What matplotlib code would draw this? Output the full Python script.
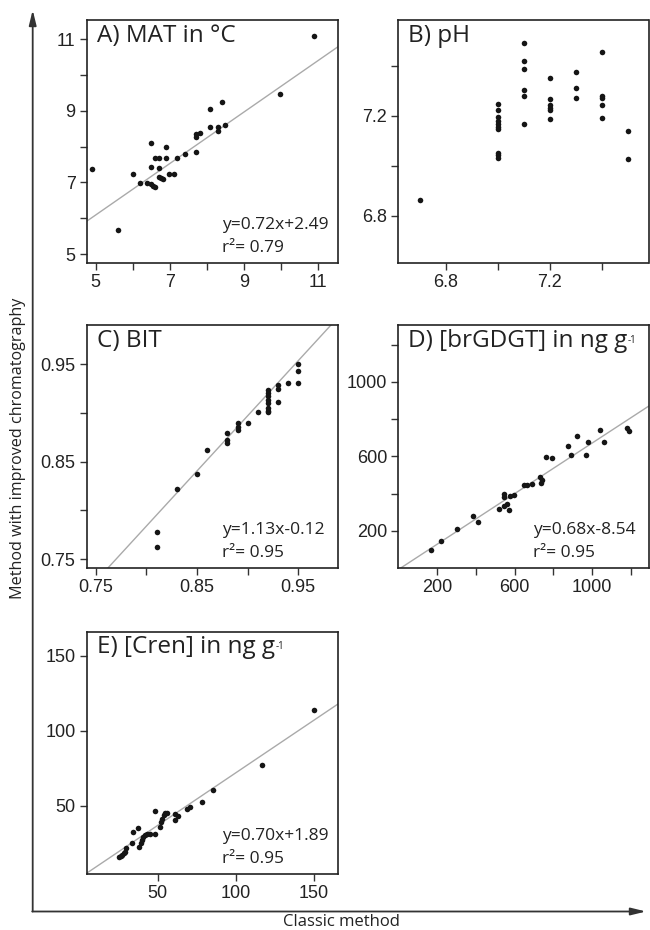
import matplotlib
matplotlib.use("Agg")
import matplotlib.pyplot as plt
import numpy as np

plt.rcParams['font.family'] = ['Open Sans', 'DejaVu Sans']
plt.rcParams['mathtext.default'] = 'regular'

# ---------------- data ----------------
mat_x = [4.91, 5.61, 6.0, 6.19, 6.39, 6.48, 6.55, 6.61, 6.5, 6.5, 6.6, 6.7, 6.71, 6.7,
         6.76, 6.81, 6.9, 6.9, 6.99, 7.1, 7.2, 7.4, 7.7, 7.7, 7.7, 7.8, 8.09, 8.09,
         8.3, 8.3, 8.4, 8.5, 9.98, 10.88]
mat_y = [7.37, 5.66, 7.25, 6.98, 6.99, 6.95, 6.91, 6.88, 7.44, 8.11, 7.67, 7.67, 7.41, 7.16,
         7.12, 7.09, 7.99, 7.67, 7.25, 7.23, 7.69, 7.80, 7.86, 8.28, 8.35, 8.39, 9.06, 8.56,
         8.56, 8.43, 9.25, 8.60, 9.48, 11.09]

ph_x = [6.7,
        7.0, 7.0, 7.0, 7.0, 7.0, 7.0, 7.0, 7.0, 7.0, 7.0,
        7.1, 7.1, 7.1, 7.1, 7.1, 7.1,
        7.2, 7.2, 7.2, 7.2, 7.2, 7.2,
        7.3, 7.3, 7.3,
        7.4, 7.4, 7.4, 7.4, 7.4,
        7.5, 7.5]
ph_y = [6.861,
        7.248, 7.224, 7.195, 7.181, 7.168, 7.157, 7.148, 7.051, 7.041, 7.032,
        7.492, 7.420, 7.387, 7.304, 7.279, 7.167,
        7.351, 7.268, 7.244, 7.233, 7.224, 7.187,
        7.375, 7.312, 7.273,
        7.457, 7.280, 7.272, 7.243, 7.193,
        7.139, 7.028]

bit_x = [0.81, 0.81, 0.83, 0.85, 0.86, 0.88, 0.88, 0.88, 0.89, 0.89, 0.89, 0.90, 0.91,
         0.92, 0.92, 0.92, 0.92, 0.92, 0.92, 0.92, 0.92, 0.93, 0.93, 0.93, 0.94,
         0.95, 0.95, 0.95]
bit_y = [0.778, 0.763, 0.822, 0.837, 0.862, 0.879, 0.872, 0.869, 0.890, 0.885, 0.882, 0.890,
         0.9005, 0.923, 0.920, 0.917, 0.913, 0.910, 0.905, 0.902, 0.901, 0.9285, 0.924,
         0.911, 0.931, 0.950, 0.9425, 0.931]

br_x = [171, 221, 305, 384, 412, 518, 544, 544, 544, 563, 570, 578, 596, 649, 661, 690,
        730, 735, 743, 762, 792, 876, 888, 921, 970, 976, 1038, 1062, 1177, 1187]
br_y = [95, 143, 207, 280, 246, 316, 398, 379, 334, 343, 311, 388, 391, 445, 448, 450,
        491, 454, 470, 596, 593, 655, 607, 709, 605, 679, 739, 679, 754, 736]

cren_x = [150.2, 116.8, 85.5, 78.6, 70.8, 68.9, 63.0, 61.3, 61.1, 56.3, 54.4, 53.8, 52.5,
          51.9, 51.3, 48.3, 48.3, 45.2, 43.1, 42.0, 40.5, 39.9, 39.1, 37.8, 37.4, 34.5,
          33.6, 29.8, 29.0, 28.4, 27.3, 26.3, 25.2]
cren_y = [113.6, 76.9, 60.4, 52.4, 48.9, 47.8, 42.9, 40.4, 44.2, 45.3, 45.3, 43.6, 41.3,
          38.9, 35.8, 46.7, 30.9, 30.9, 30.9, 30.4, 29.1, 26.9, 25.3, 22.7, 35.1, 32.4,
          24.9, 21.6, 19.3, 18.2, 17.1, 16.4, 15.8]

titles = ["A) MAT in °C", "B) pH", "C) BIT", "D) [brGDGT] in ng g", "E) [Cren] in ng g"]
title_sup = [None, None, None, "-1", "-1"]
fit_slope = [0.72, None, 1.13, 0.68, 0.70]
fit_icpt = [2.49, None, -0.12, -8.54, 1.89]
fit_text = ["y=0.72x+2.49", None, "y=1.13x-0.12", "y=0.68x-8.54", "y=0.70x+1.89"]
r2_text = ["r²= 0.79", None, "r²= 0.95", "r²= 0.95", "r²= 0.95"]

# ticks: positions and labels
a_ticks = [5, 6, 7, 8, 9, 10, 11]
a_labels = ["5", "", "7", "", "9", "", "11"]
b_ticks = [6.8, 7.0, 7.2, 7.4]
b_labels = ["6.8", "", "7.2", ""]
c_ticks = [0.75, 0.80, 0.85, 0.90, 0.95]
c_labels = ["0.75", "", "0.85", "", "0.95"]
d_ticks = [200, 400, 600, 800, 1000, 1200]
d_labels = ["200", "", "600", "", "1000", ""]
e_ticks = [50, 100, 150]
e_labels = ["50", "100", "150"]

# ---------------- figure ----------------
W, H = 650, 930
fig = plt.figure(figsize=(W / 100, H / 100), dpi=100)

def add_ax(l, r, t, b):
    return fig.add_axes([l / W, 1 - b / H, (r - l) / W, (b - t) / H])

boxes = [(86.7, 338.3, 20, 263), (398.3, 648.5, 20, 263),
         (86.7, 338.3, 325, 568), (398.3, 648.5, 325, 568),
         (86.7, 338.3, 631.7, 874.3)]
xs = [mat_x, ph_x, bit_x, br_x, cren_x]
ys = [mat_y, ph_y, bit_y, br_y, cren_y]
xlims = [(4.76, 11.54), (6.617, 7.58), (0.741, 0.9895), (0, 1290), (4.5, 165.8)]
ylims = [(4.75, 11.54), (6.61, 7.584), (0.741, 0.99), (0, 1305), (4.3, 166)]
xt = [(a_ticks, a_labels), (b_ticks, b_labels), (c_ticks, c_labels),
      (d_ticks, d_labels), (e_ticks, e_labels)]
yt = [(a_ticks, a_labels), (b_ticks, b_labels), (c_ticks, c_labels),
      (d_ticks, d_labels), (e_ticks, e_labels)]

tick_font = dict(family=['Liberation Sans', 'DejaVu Sans'], size=13)
ink = '#222222'

title_objs = []
for i in range(5):
    ax = add_ax(*boxes[i])
    ax.scatter(xs[i], ys[i], s=16, color='#151515', linewidths=0, zorder=3)
    ax.set_xlim(*xlims[i])
    ax.set_ylim(*ylims[i])
    if fit_slope[i] is not None:
        lx = np.array(xlims[i])
        ax.plot(lx, fit_slope[i] * lx + fit_icpt[i], color='#aaaaaa', lw=1.0, zorder=2)
        ax.text(0.538, 0.158, fit_text[i], transform=ax.transAxes, fontsize=12.5,
                va='center', ha='left', color=ink)
        ax.text(0.538, 0.062, r2_text[i], transform=ax.transAxes, fontsize=12.5,
                va='center', ha='left', color=ink)
    t = ax.text(0.04, 0.935, titles[i], transform=ax.transAxes, fontsize=17.5,
                va='center', ha='left', color=ink)
    title_objs.append((ax, t, title_sup[i]))
    ax.set_xticks(xt[i][0])
    ax.set_xticklabels(xt[i][1], fontdict=tick_font, color=ink)
    ax.set_yticks(yt[i][0])
    ax.set_yticklabels(yt[i][1], fontdict=tick_font, color=ink)
    ax.tick_params(direction='out', length=5, width=1.0, color='#333333', pad=3)
    for sp in ax.spines.values():
        sp.set_color(ink)
        sp.set_linewidth(1.2)

# small superscripts after titles
fig.canvas.draw()
renderer = fig.canvas.get_renderer()
for ax, t, sup in title_objs:
    if sup is None:
        continue
    bb = t.get_window_extent(renderer)
    fig.text((bb.x1 + 0.5) / W, (bb.y1 - 6) / H, sup, fontsize=7, ha='left',
             va='top', color=ink)

# overall axis arrows and labels
ov = fig.add_axes([0, 0, 1, 1], zorder=-1)
ov.set_xlim(0, W)
ov.set_ylim(H, 0)
ov.axis('off')
ov.patch.set_visible(False)
arrow_kw = dict(arrowstyle='-|>,head_length=0.9,head_width=0.22', color='#333333',
                lw=1.3, shrinkA=0, shrinkB=0)
ov.annotate('', xy=(32.7, 10), xytext=(32.7, 911.5), arrowprops=arrow_kw)
ov.annotate('', xy=(646, 911.5), xytext=(32.2, 911.5), arrowprops=arrow_kw)
ov.text(18, 448, "Method with improved chromatography", rotation=90, fontsize=11.6,
        ha='center', va='center', color=ink)
ov.text(341, 922, "Classic method", fontsize=12, ha='center', va='center',
        color=ink)

fig.savefig("out.png", dpi=100)
